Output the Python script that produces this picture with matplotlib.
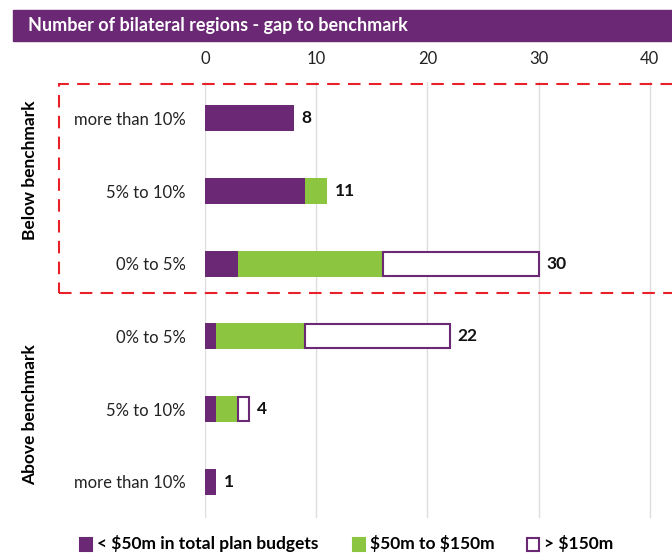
import matplotlib.pyplot as plt
from matplotlib.patches import Rectangle
import numpy as np

plt.rcParams['font.family'] = ['Lato', 'DejaVu Sans']

categories = ['more than 10%', '5% to 10%', '0% to 5%',
              '0% to 5%', '5% to 10%', 'more than 10%']
small = [8, 9, 3, 1, 1, 1]        # < $50m
medium = [0, 2, 13, 8, 2, 0]      # $50m to $150m
large = [0, 0, 14, 13, 1, 0]      # > $150m
totals = [8, 11, 30, 22, 4, 1]
groups = ['Below benchmark', 'Above benchmark']
legend_labels = [r'< \$50m in total plan budgets', r'\$50m to \$150m', r'> \$150m']

purple = '#6b2874'
green = '#8cc540'
red = '#e8202a'

fig = plt.figure(figsize=(6.72, 5.54), dpi=100)
ax = fig.add_axes([205/672, 1 - 518/554, 1 - 205/672, (518 - 82)/554])

y = np.arange(len(categories))
small = np.array(small)
medium = np.array(medium)
large = np.array(large)
h = 0.36
ax.barh(y, small, height=h, color=purple, zorder=3)
m = medium > 0
ax.barh(y[m], medium[m], left=small[m], height=h, color=green, zorder=3)
l = large > 0
ax.barh(y[l], large[l], left=(small + medium)[l], height=h - 0.03, color='white',
        edgecolor=purple, linewidth=1.5, zorder=3)
for yi, t in zip(y, totals):
    ax.text(t + 0.7, yi, str(t), va='center', ha='left',
            fontsize=12.5, fontweight='bold', color='#111111')

ax.set_xlim(0, 42)
ax.set_ylim(5.5, -0.5)
ax.set_xticks([0, 10, 20, 30, 40])
ax.xaxis.tick_top()
ax.tick_params(axis='x', length=0, labelsize=12, pad=11, colors='#222222')
ax.set_yticks(y)
ax.set_yticklabels(categories)
ax.tick_params(axis='y', length=0, labelsize=12, pad=14, colors='#222222')
ax.grid(axis='x', color='#dddddd', linewidth=1, zorder=0)
for s in ax.spines.values():
    s.set_visible(False)

# title bar
fig.patches.append(Rectangle((13/672, 1 - 41/554), 1 - 13/672, 31/554,
                             transform=fig.transFigure, color=purple))
fig.text(28/672, 1 - 26/554, 'Number of bilateral regions - gap to benchmark',
         color='white', fontsize=13, fontweight='bold', va='center')

# dashed highlight box
fig.patches.append(Rectangle((59/672, 1 - 293/554), 640/672, (293 - 84)/554,
                             transform=fig.transFigure, fill=False,
                             edgecolor=red, linestyle=(0, (6, 4)), linewidth=1.5))

# group labels
fig.text(30/672, 1 - 170/554, groups[0], rotation=90, fontsize=12.5,
         fontweight='bold', ha='center', va='center')
fig.text(30/672, 1 - 415/554, groups[1], rotation=90, fontsize=12.5,
         fontweight='bold', ha='center', va='center')

# legend
lx = [80, 353, 527]
faces = [purple, green, 'white']
edges = [purple, green, purple]
for x0, fc, ec, lab in zip(lx, faces, edges, legend_labels):
    fig.patches.append(Rectangle((x0/672, 1 - 551/554), 12/672, 13/554,
                                 transform=fig.transFigure, facecolor=fc,
                                 edgecolor=ec, linewidth=1.5))
    fig.text((x0 + 17)/672, 1 - 544/554, lab, fontsize=12.5, fontweight='bold',
             va='center', ha='left')

fig.savefig('out.png', dpi=100)
